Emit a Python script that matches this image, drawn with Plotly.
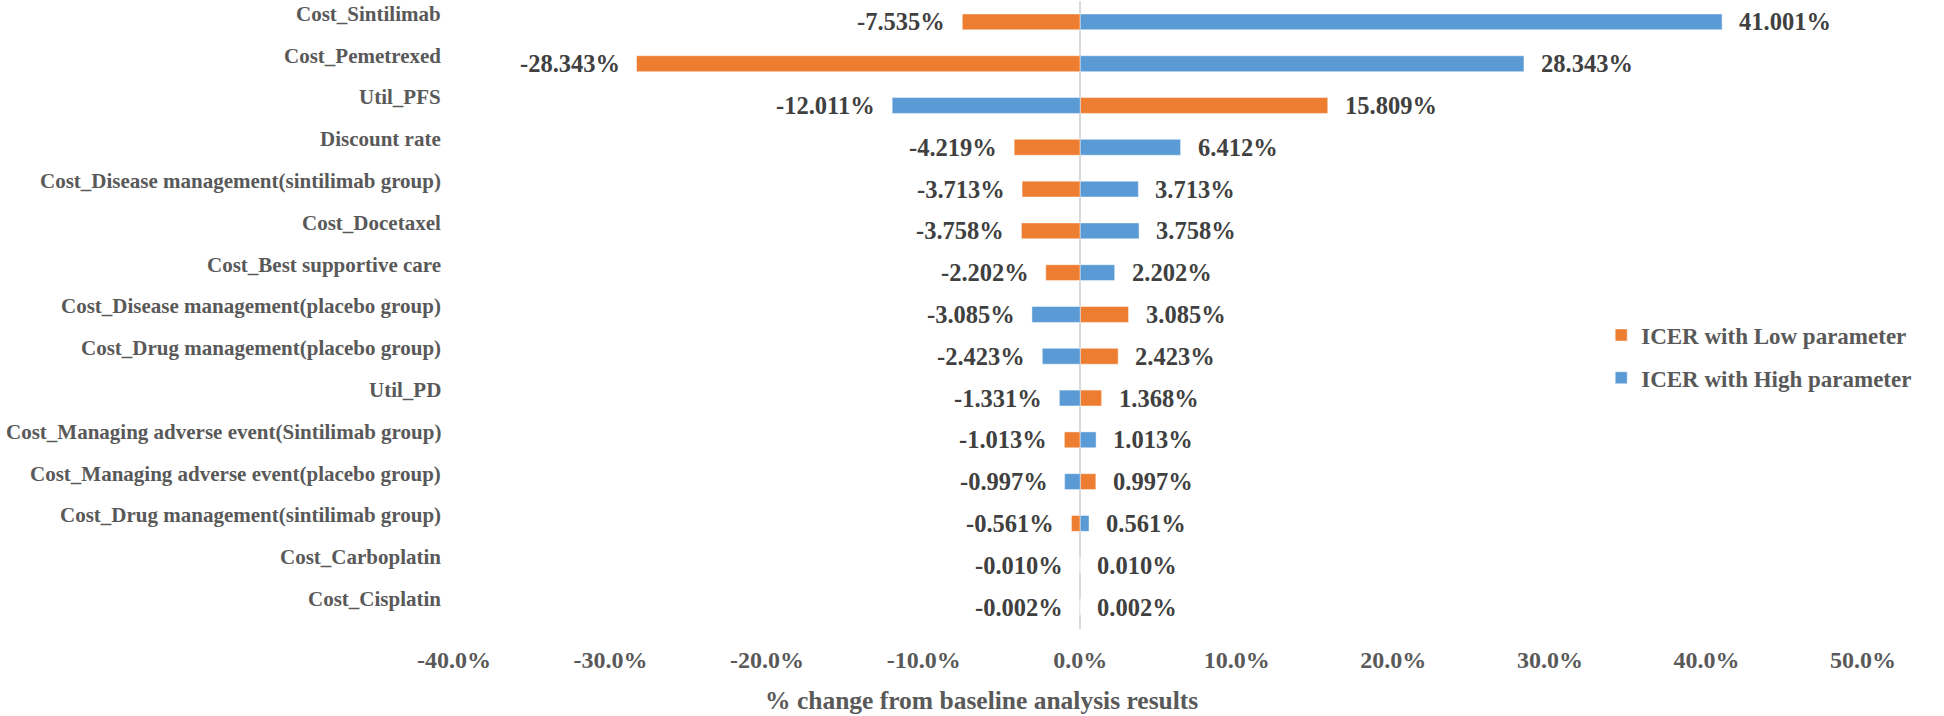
import plotly.graph_objects as go

categories = [
    "Cost_Sintilimab",
    "Cost_Pemetrexed",
    "Util_PFS",
    "Discount rate",
    "Cost_Disease management(sintilimab group)",
    "Cost_Docetaxel",
    "Cost_Best supportive care",
    "Cost_Disease management(placebo group)",
    "Cost_Drug management(placebo group)",
    "Util_PD",
    "Cost_Managing adverse event(Sintilimab group)",
    "Cost_Managing adverse event(placebo group)",
    "Cost_Drug management(sintilimab group)",
    "Cost_Carboplatin",
    "Cost_Cisplatin",
]
low_values = [-7.535, -28.343, 15.809, -4.219, -3.713, -3.758, -2.202, 3.085, 2.423, 1.368,
              -1.013, 0.997, -0.561, -0.010, -0.002]
high_values = [41.001, 28.343, -12.011, 6.412, 3.713, 3.758, 2.202, -3.085, -2.423, -1.331,
               1.013, -0.997, 0.561, 0.010, 0.002]
tick_vals = [-40, -30, -20, -10, 0, 10, 20, 30, 40, 50]
tick_text = ["-40.0%", "-30.0%", "-20.0%", "-10.0%", "0.0%", "10.0%", "20.0%", "30.0%", "40.0%", "50.0%"]

FONT = "Liberation Serif, Times New Roman, serif"
ORANGE = "#ED7D31"
BLUE = "#5B9BD5"
GRAY = "#595959"
DARK = "#404040"

fig = go.Figure()
fig.add_bar(y=categories, x=low_values, orientation="h", name="ICER with Low parameter",
            marker=dict(color=ORANGE, line=dict(color="rgba(255,255,255,0.45)", width=1)),
            legend="legend", showlegend=True)
fig.add_bar(y=categories, x=high_values, orientation="h", name="ICER with High parameter",
            marker=dict(color=BLUE, line=dict(color="rgba(255,255,255,0.45)", width=1)),
            legend="legend2", showlegend=True)

annotations = []
for cat in categories:
    annotations.append(dict(x=0, xref="paper", y=cat, yref="y", text=cat, showarrow=False,
                            xanchor="right", yanchor="middle", xshift=-11, yshift=8,
                            font=dict(family=FONT, size=21, color=GRAY, weight="bold")))
for series in (low_values, high_values):
    for cat, v in zip(categories, series):
        annotations.append(dict(x=v, y=cat, xref="x", yref="y", text=f"{v:.3f}%", showarrow=False,
                                xanchor="left" if v > 0 else "right", yanchor="middle",
                                xshift=15 if v > 0 else -15,
                                font=dict(family=FONT, size=24.5, color=DARK, weight="bold")))
annotations.append(dict(x=0.3747, xref="paper", y=-0.1146, yref="paper",
                        text="% change from baseline analysis results", showarrow=False,
                        xanchor="center", yanchor="middle",
                        font=dict(family=FONT, size=25.5, color=GRAY, weight="bold")))

legend_font = dict(family=FONT, size=23, color=GRAY, weight="bold")
fig.update_layout(
    width=1944, height=716,
    margin=dict(l=454, r=81, t=1, b=87, autoexpand=False),
    paper_bgcolor="white", plot_bgcolor="white",
    showlegend=True,
    barmode="overlay", bargap=0.62,
    annotations=annotations,
    legend=dict(x=0.8142, xanchor="left", y=0.468, yanchor="middle", font=legend_font,
                bgcolor="rgba(0,0,0,0)"),
    legend2=dict(x=0.8142, xanchor="left", y=0.400, yanchor="middle", font=legend_font,
                 bgcolor="rgba(0,0,0,0)"),
    xaxis=dict(range=[-40, 50], tickvals=tick_vals, ticktext=tick_text, showgrid=False,
               zeroline=True, zerolinecolor="#D9D9D9", zerolinewidth=1.5, showline=False,
               ticks="", ticklabelstandoff=14,
               tickfont=dict(family=FONT, size=24, color=GRAY, weight="bold")),
    yaxis=dict(categoryorder="array", categoryarray=categories, autorange="reversed",
               showticklabels=False, showgrid=False, zeroline=False, showline=False, ticks=""),
)

fig.write_html("out.html", config={"displayModeBar": False},
               post_script="document.body.style.margin='0';document.body.style.overflow='hidden';")
